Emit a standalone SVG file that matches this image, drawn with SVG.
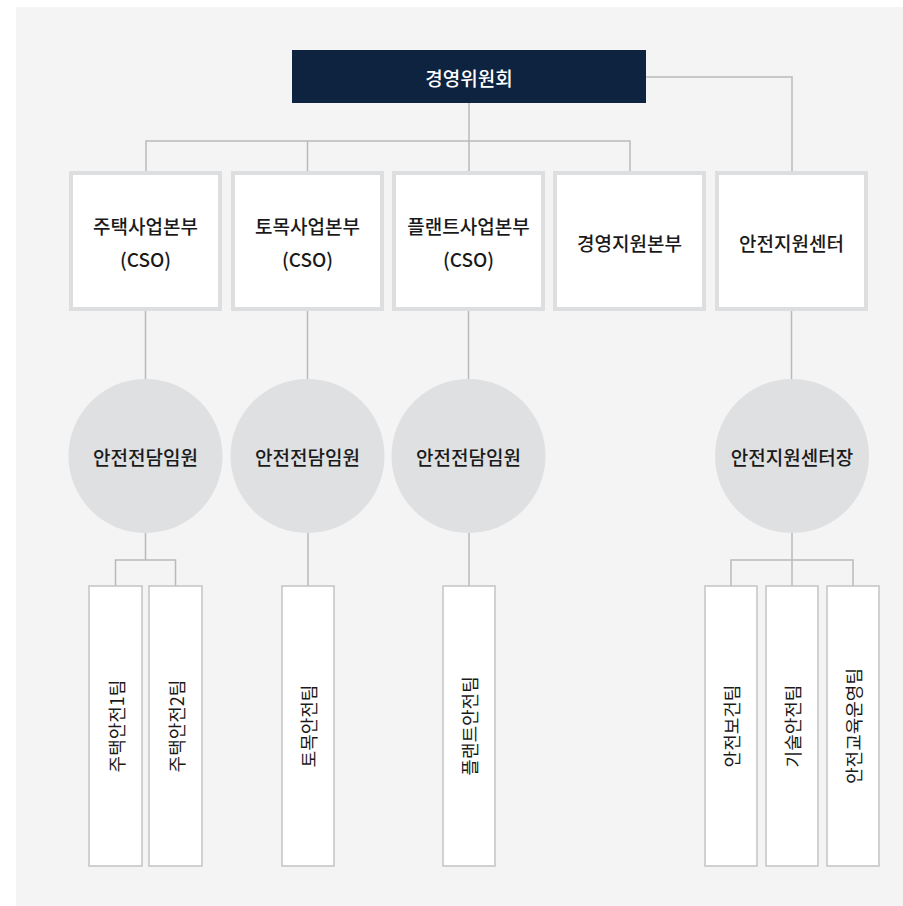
<svg xmlns="http://www.w3.org/2000/svg" width="903" height="906" viewBox="0 0 903 906">
<style>
.bg{fill:#ffffff}
.panel{fill:#f4f4f4}
.lines path{fill:none;stroke:#b9b9b9;stroke-width:1.5}
.top{fill:#0e2340}
.box{fill:#ffffff;stroke:#dddee0;stroke-width:4}
.circ{fill:#dfe0e2}
.team{fill:#ffffff;stroke:#c3c3c3;stroke-width:1.5}
text{font-family:"Noto Sans CJK KR","Noto Sans",sans-serif;text-anchor:middle;dominant-baseline:central;fill:#1a1a1a}
.t1{font-size:19px;font-weight:500;fill:#ffffff}
.t2{font-size:19px;font-weight:500}
.t3{font-size:18px;font-weight:400}
</style>
<rect class="bg" x="0" y="0" width="903" height="906"/>
<rect class="panel" x="16" y="7" width="887" height="899"/>
<g id="connectors" class="lines">
<path d="M469 103V141M146 171V141H630V171M307.5 141V171M469 141V171"/>
<path d="M646 77H792V171"/>
<path d="M145.5 311V379M307.5 311V379M468.5 311V379M791.5 311V379"/>
<path d="M145.5 533V560M115.5 586V560H175.5V586"/>
<path d="M308 533V586M469 533V586"/>
<path d="M792 533V586M731 586V560H853V586"/>
</g>
<g id="n-board"><rect class="top" x="292" y="50" width="354" height="53"/><text class="t1" x="469" y="77">경영위원회</text></g>
<g id="n-housing"><rect class="box" x="71" y="173" width="149" height="136"/><text class="t2" x="145.5" y="225">주택사업본부</text><text class="t2" x="145.5" y="258">(CSO)</text></g>
<g id="n-civil"><rect class="box" x="233" y="173" width="149" height="136"/><text class="t2" x="307.5" y="225">토목사업본부</text><text class="t2" x="307.5" y="258">(CSO)</text></g>
<g id="n-plant"><rect class="box" x="394" y="173" width="149" height="136"/><text class="t2" x="468.5" y="225">플랜트사업본부</text><text class="t2" x="468.5" y="258">(CSO)</text></g>
<g id="n-mgmt"><rect class="box" x="555" y="173" width="149" height="136"/><text class="t2" x="629.5" y="242">경영지원본부</text></g>
<g id="n-safety"><rect class="box" x="717" y="173" width="149" height="136"/><text class="t2" x="791.5" y="242">안전지원센터</text></g>
<g id="c-housing"><circle class="circ" cx="145.5" cy="456" r="77"/><text class="t2" x="145.5" y="456">안전전담임원</text></g>
<g id="c-civil"><circle class="circ" cx="307.5" cy="456" r="77"/><text class="t2" x="307.5" y="456">안전전담임원</text></g>
<g id="c-plant"><circle class="circ" cx="468.5" cy="456" r="77"/><text class="t2" x="468.5" y="456">안전전담임원</text></g>
<g id="c-safety"><circle class="circ" cx="792" cy="456" r="77"/><text class="t2" x="792" y="456">안전지원센터장</text></g>
<g id="t-h1"><rect class="team" x="89" y="586" width="53" height="280"/><text class="t3" transform="translate(115.5 726) rotate(-90)">주택안전1팀</text></g>
<g id="t-h2"><rect class="team" x="149" y="586" width="53" height="280"/><text class="t3" transform="translate(175.5 726) rotate(-90)">주택안전2팀</text></g>
<g id="t-c"><rect class="team" x="282" y="586" width="52" height="280"/><text class="t3" transform="translate(308 726) rotate(-90)">토목안전팀</text></g>
<g id="t-p"><rect class="team" x="443" y="586" width="52" height="280"/><text class="t3" transform="translate(469 726) rotate(-90)">플랜트안전팀</text></g>
<g id="t-s1"><rect class="team" x="705" y="586" width="52" height="280"/><text class="t3" transform="translate(731 726) rotate(-90)">안전보건팀</text></g>
<g id="t-s2"><rect class="team" x="766" y="586" width="52" height="280"/><text class="t3" transform="translate(792 726) rotate(-90)">기술안전팀</text></g>
<g id="t-s3"><rect class="team" x="827" y="586" width="52" height="280"/><text class="t3" transform="translate(853 726) rotate(-90)">안전교육운영팀</text></g>
</svg>
